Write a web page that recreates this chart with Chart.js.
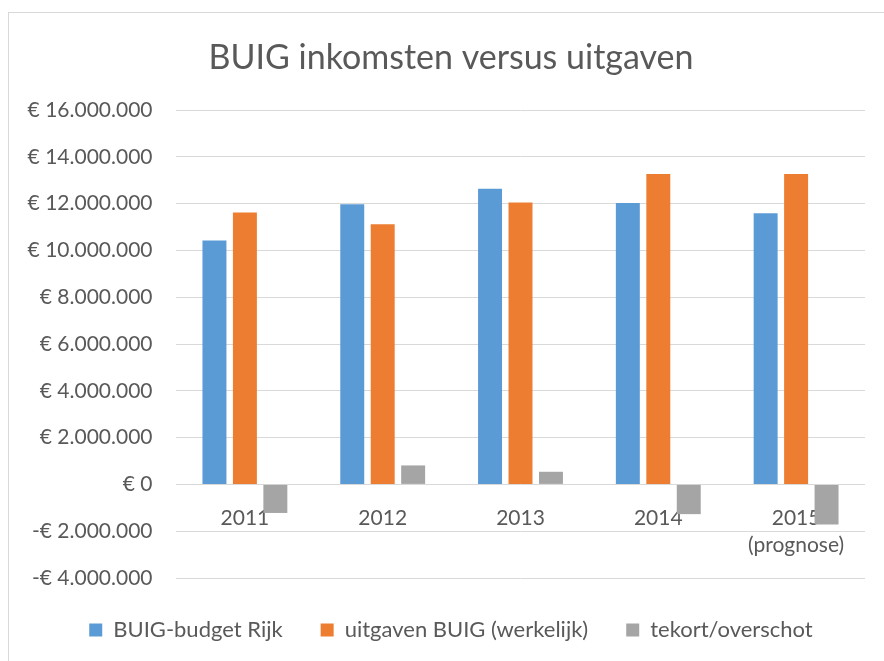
<!DOCTYPE html>
<html>
<head>
<meta charset="utf-8">
<title>BUIG inkomsten versus uitgaven</title>
<script src="https://cdn.jsdelivr.net/npm/chart.js@4.4.1/dist/chart.umd.min.js"></script>
<style>
  html, body { margin: 0; padding: 0; background: #fff; overflow: hidden; }
  #frame {
    position: absolute; left: 8px; top: 12px; width: 900px; height: 700px;
    border-left: 1px solid #d9d9d9; border-top: 1px solid #d9d9d9;
  }
  #chart { position: absolute; left: 0; top: 0; }
</style>
</head>
<body>
<div id="frame"></div>
<canvas id="chart" width="902" height="661"></canvas>
<script>
// years on the x axis (last one is a forecast)
const categories = ['2011', '2012', '2013', '2014', ['2015', '(prognose)']]

// values, in euro
const budgetRijk = [10420000, 11970000, 12630000, 12030000, 11590000]
const uitgaven = [11620000, 11120000, 12050000, 13270000, 13260000]
const tekortOverschot = [-1220000, 810000, 540000, -1270000, -1710000]

const seriesNames = ['BUIG-budget Rijk', 'uitgaven BUIG (werkelijk)', 'tekort/overschot']

// y axis range and step
const yMin = -4000000
const yMax = 16000000
const yStep = 2000000

const textColor = '#595959'
const gridColor = '#d9d9d9'
const fontFamily = 'Lato, "Liberation Sans", sans-serif'

function euro(value) {
  const abs = Math.abs(value)
  const digits = String(Math.round(abs)).replace(/\B(?=(\d{3})+(?!\d))/g, '.')
  return (value < 0 ? '-€ ' : '€ ') + digits
}

const ctx = document.getElementById('chart')

new Chart(ctx, {
  type: 'bar',
  data: {
    labels: categories,
    datasets: [
      { label: seriesNames[0], data: budgetRijk, backgroundColor: '#5b9bd5', yAxisID: 'y' },
      { label: seriesNames[1], data: uitgaven, backgroundColor: '#ed7d31', yAxisID: 'y' },
      { label: seriesNames[2], data: tekortOverschot, backgroundColor: '#a5a5a5', yAxisID: 'y' }
    ]
  },
  options: {
    responsive: false,
    animation: false,
    devicePixelRatio: 1,
    categoryPercentage: 0.663,
    barPercentage: 0.787,
    layout: {
      padding: { left: 0, right: 0, top: 0, bottom: 10 }
    },
    plugins: {
      title: {
        display: true,
        text: 'BUIG inkomsten versus uitgaven',
        color: textColor,
        font: { family: fontFamily, size: 34, weight: 'normal', lineHeight: 1.2 },
        padding: { top: 37.6, bottom: 31.6 }
      },
      legend: {
        position: 'bottom',
        // tiny empty title, just to nudge the items down
        title: { display: true, text: '', font: { size: 1, lineHeight: 1 }, padding: { top: 2, bottom: 0 } },
        labels: {
          boxWidth: 13,
          boxHeight: 13,
          padding: 38,
          color: textColor,
          font: { family: fontFamily, size: 22 }
        }
      },
      tooltip: { enabled: false }
    },
    scales: {
      x: {
        type: 'category',
        position: { y: 0 },
        grid: { display: false, drawTicks: false },
        border: { display: false },
        ticks: {
          color: textColor,
          padding: 20.5,
          maxRotation: 0,
          autoSkip: false,
          font: { family: fontFamily, size: 21, lineHeight: 1.286 }
        }
      },
      y: {
        min: yMin,
        max: yMax,
        afterFit: (scale) => { scale.width = 176 },
        grid: { color: gridColor, lineWidth: 1, drawTicks: false },
        border: { display: false },
        ticks: {
          stepSize: yStep,
          padding: 23.5,
          color: textColor,
          font: { family: fontFamily, size: 21 },
          callback: (value) => euro(value)
        }
      },
      // empty spacer on the right so title and legend stay centred on the frame
      yRight: {
        type: 'linear',
        position: 'right',
        min: yMin,
        max: yMax,
        afterFit: (scale) => { scale.width = 37 },
        grid: { display: false, drawTicks: false },
        border: { display: false },
        ticks: { display: false }
      }
    }
  }
})
</script>
</body>
</html>
